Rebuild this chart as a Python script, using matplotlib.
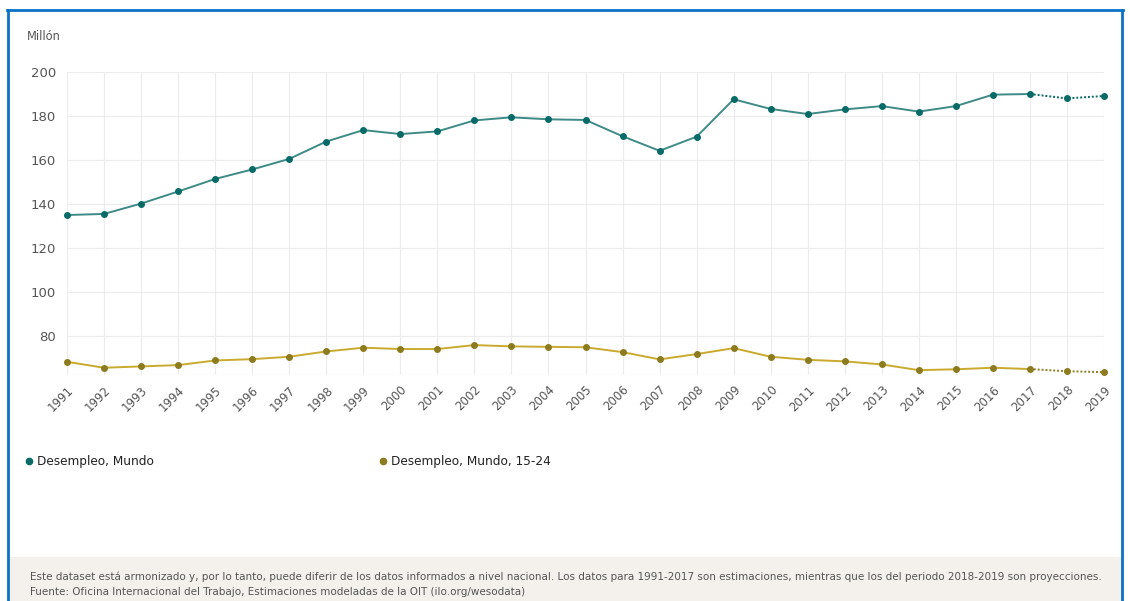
import matplotlib
matplotlib.use("Agg")
import matplotlib.pyplot as plt
from matplotlib.patches import Rectangle

years = list(range(1991, 2020))
world = [135.0, 135.5, 140.2, 145.7, 151.4, 155.7, 160.5, 168.4, 173.6, 171.8,
         173.0, 178.0, 179.4, 178.5, 178.2, 170.8, 164.2, 170.6, 187.6, 183.2,
         180.9, 183.0, 184.5, 182.0, 184.5, 189.7, 190.0, 188.0, 189.1]
youth = [68.3, 65.6, 66.2, 66.8, 68.9, 69.5, 70.6, 73.0, 74.7, 74.1,
         74.1, 75.9, 75.3, 75.1, 74.9, 72.7, 69.4, 71.8, 74.5, 70.6,
         69.2, 68.5, 67.1, 64.5, 64.9, 65.6, 65.0, 64.0, 63.6]
yticks = [80, 100, 120, 140, 160, 180, 200]
series_names = ["Desempleo, Mundo", "Desempleo, Mundo, 15-24"]
last_estimate = 2017

plt.rcParams['font.family'] = ['DejaVu Sans']

fig = plt.figure(figsize=(11.3, 6.01), dpi=100)
W, H = 1130, 601

def fx(px):
    return px / W

def fy(py):
    return 1 - py / H

# footer band
fig.patches.append(Rectangle((fx(7), 0), fx(1122) - fx(7), fy(557), transform=fig.transFigure,
                             facecolor='#f4f1ec', edgecolor='none', zorder=0))
# blue frame
border_col = '#0b72c6'
fig.add_artist(plt.Line2D([fx(8), fx(8)], [0, fy(10)], transform=fig.transFigure, color=border_col, lw=2))
fig.add_artist(plt.Line2D([fx(1122), fx(1122)], [0, fy(10)], transform=fig.transFigure, color=border_col, lw=2))
fig.add_artist(plt.Line2D([fx(7), fx(1123)], [fy(10), fy(10)], transform=fig.transFigure, color=border_col, lw=2))

ax = fig.add_axes([fx(67), fy(375), fx(1104) - fx(67), fy(72) - fy(375)])

ymin = 62.3
ax.set_xlim(1991, 2019)
ax.set_ylim(ymin, 200)

for y in yticks:
    ax.axhline(y, color='#ececec', lw=0.8, zorder=0)
ax.axhline(ymin, color='#ececec', lw=0.8, zorder=0)
for x in years:
    ax.axvline(x, color='#ececec', lw=0.8, zorder=0)

cols = [('#3e8a86', '#086b68'), ('#c9aa2e', '#8d7b1f')]
for vals, (lc, mc) in zip([world, youth], cols):
    i = years.index(last_estimate)
    ax.plot(years[:i + 1], vals[:i + 1], color=lc, lw=1.4, zorder=3, clip_on=False)
    ax.plot(years[i:], vals[i:], color=mc, lw=1.4, ls=(0, (1, 1)), zorder=3, clip_on=False)
    ax.plot(years, vals, ls='none', marker='o', ms=4, color=mc, zorder=4, clip_on=False)

for s in ax.spines.values():
    s.set_visible(False)
ax.set_yticks(yticks)
ax.set_xticks(years)
ax.set_xticklabels([str(y) for y in years], rotation=45, ha='right', rotation_mode='anchor',
                   fontsize=8.5, color='#555555')
ax.tick_params(axis='x', length=0, pad=6)
ax.tick_params(axis='y', length=0, pad=8, labelsize=9.5, labelcolor='#555555')
ax.set_facecolor('none')

fig.text(fx(27), fy(36), "Millón", fontsize=8.3, color='#555555', va='center', ha='left')

# legend
leg_pos = [(29, 461), (383, 461)]
for (px, py), name, (lc, mc) in zip(leg_pos, series_names, cols):
    fig.add_artist(plt.Line2D([fx(px)], [fy(py)], transform=fig.transFigure, marker='o', ms=4.5,
                              color=mc, ls='none'))
    fig.text(fx(px + 8), fy(py), name, fontsize=8.7, color='#222222', va='center', ha='left')

fig.text(fx(30), fy(577), "Este dataset está armonizado y, por lo tanto, puede diferir de los datos informados a nivel nacional. "
         "Los datos para 1991-2017 son estimaciones, mientras que los del periodo 2018-2019 son proyecciones.",
         fontsize=7.5, color='#555555', va='center', ha='left')
fig.text(fx(30), fy(592), "Fuente: Oficina Internacional del Trabajo, Estimaciones modeladas de la OIT (ilo.org/wesodata)",
         fontsize=7.5, color='#555555', va='center', ha='left')

fig.savefig("out.png", dpi=100)
